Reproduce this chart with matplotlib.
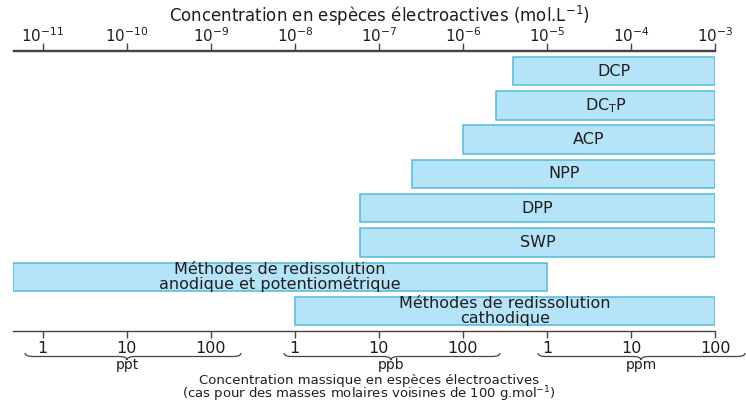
import matplotlib
matplotlib.use("Agg")
import numpy as np
import matplotlib.pyplot as plt
from matplotlib.path import Path
from matplotlib.patches import PathPatch
from matplotlib.ticker import FixedLocator, FixedFormatter, NullLocator

# Detection ranges of the electroanalytical methods (mol/L)
methods = ["DCP", r"DC$_{\mathrm{T}}$P", "ACP", "NPP", "DPP", "SWP",
           "Méthodes de redissolution\nanodique et potentiométrique",
           "Méthodes de redissolution\ncathodique"]
c_low = [4.0e-6, 2.5e-6, 1.0e-6, 2.5e-7, 6.0e-8, 6.0e-8, 4.4e-12, 1.0e-8]
c_high = [1e-3, 1e-3, 1e-3, 1e-3, 1e-3, 1e-3, 1e-5, 1e-3]

molar_ticks = [1e-11, 1e-10, 1e-9, 1e-8, 1e-7, 1e-6, 1e-5, 1e-4, 1e-3]
molar_labels = [r"$10^{-11}$", r"$10^{-10}$", r"$10^{-9}$", r"$10^{-8}$",
                r"$10^{-7}$", r"$10^{-6}$", r"$10^{-5}$", r"$10^{-4}$",
                r"$10^{-3}$"]
mass_labels = ["1", "10", "100", "1", "10", "100", "1", "10", "100"]
mass_units = ["ppt", "ppb", "ppm"]

W, H = 746, 403
TXT = "#1e1e1e"
LINE = "#444444"
FILL = "#b5e3f7"
EDGE = "#55b9da"

plt.rcParams["font.family"] = ["DejaVu Sans"]
plt.rcParams["mathtext.fontset"] = "dejavusans"

fig = plt.figure(figsize=(W / 100, H / 100), dpi=100)
ax = fig.add_axes([13 / W, 1 - 331 / H, (715 - 13) / W, (331 - 50.5) / H])

ax.set_xscale("log")
ax.set_xlim(10 ** -11.354, 1e-3)
ax.set_ylim(7.584, -0.604)

y = np.arange(len(methods))
lo = np.array(c_low)
hi = np.array(c_high)
ax.barh(y, hi - lo, left=lo, height=0.83, color=FILL, edgecolor=EDGE,
        linewidth=1.1, zorder=2)
for yi, lab, a, b in zip(y, methods, lo, hi):
    xc = np.sqrt(a * b)
    ax.text(xc, yi, lab, ha="center", va="center", fontsize=11.5,
            color=TXT, linespacing=0.95, zorder=3)

# spines: only the two concentration scales
for s in ("left", "right"):
    ax.spines[s].set_visible(False)
for s in ("top", "bottom"):
    ax.spines[s].set_color(LINE)
    ax.spines[s].set_linewidth(1.0)
ax.set_yticks([])

# bottom scale: mass concentration
ax.xaxis.set_major_locator(FixedLocator(molar_ticks))
ax.xaxis.set_major_formatter(FixedFormatter(mass_labels))
ax.xaxis.set_minor_locator(NullLocator())
ax.tick_params(axis="x", which="major", direction="out", length=5,
               width=1.0, color=LINE, labelsize=11.5, labelcolor=TXT, pad=2)

# top scale: molar concentration
top = ax.secondary_xaxis("top")
top.xaxis.set_major_locator(FixedLocator(molar_ticks))
top.xaxis.set_major_formatter(FixedFormatter(molar_labels))
top.xaxis.set_minor_locator(NullLocator())
top.spines["top"].set_color(LINE)
top.spines["top"].set_linewidth(1.0)
top.tick_params(axis="x", which="major", direction="out", length=5,
                width=1.0, color=LINE, labelsize=11, labelcolor=TXT, pad=-1)

fig.text(380 / W, 1 - 16 / H,
         r"Concentration en espèces électroactives (mol.L$^{-1}$)",
         ha="center", va="center", fontsize=12, color=TXT)


def brace(x0, x1, xm, ytop, depth, q=8):
    """Horizontal curly brace, pixel coordinates with y measured downward."""
    mid = ytop + depth / 2
    pts = [(x0, ytop), (x0, mid), (x0 + q, mid),
           (xm - q, mid), (xm, mid), (xm, ytop + depth),
           (xm, mid), (xm + q, mid),
           (x1 - q, mid), (x1, mid), (x1, ytop)]
    codes = [Path.MOVETO, Path.CURVE3, Path.CURVE3,
             Path.LINETO, Path.CURVE3, Path.CURVE3,
             Path.CURVE3, Path.CURVE3,
             Path.LINETO, Path.CURVE3, Path.CURVE3]
    verts = [(px / W, 1 - py / H) for px, py in pts]
    fig.add_artist(PathPatch(Path(verts, codes), transform=fig.transFigure,
                             fill=False, lw=0.9, edgecolor=LINE))


brace_spans = [(25, 241, 127), (284, 500, 391), (538, 745, 641)]
for (x0, x1, xm), unit in zip(brace_spans, mass_units):
    brace(x0, x1, xm, 353, 7)
    fig.text(xm / W, 1 - 365 / H, unit, ha="center", va="center",
             fontsize=10, color=TXT)

fig.text(369 / W, 1 - 389 / H,
         "Concentration massique en espèces électroactives\n"
         r"(cas pour des masses molaires voisines de 100 g.mol$^{-1}$)",
         ha="center", va="center", fontsize=9.5, color=TXT, linespacing=0.85)

fig.savefig("out.png", dpi=100)
